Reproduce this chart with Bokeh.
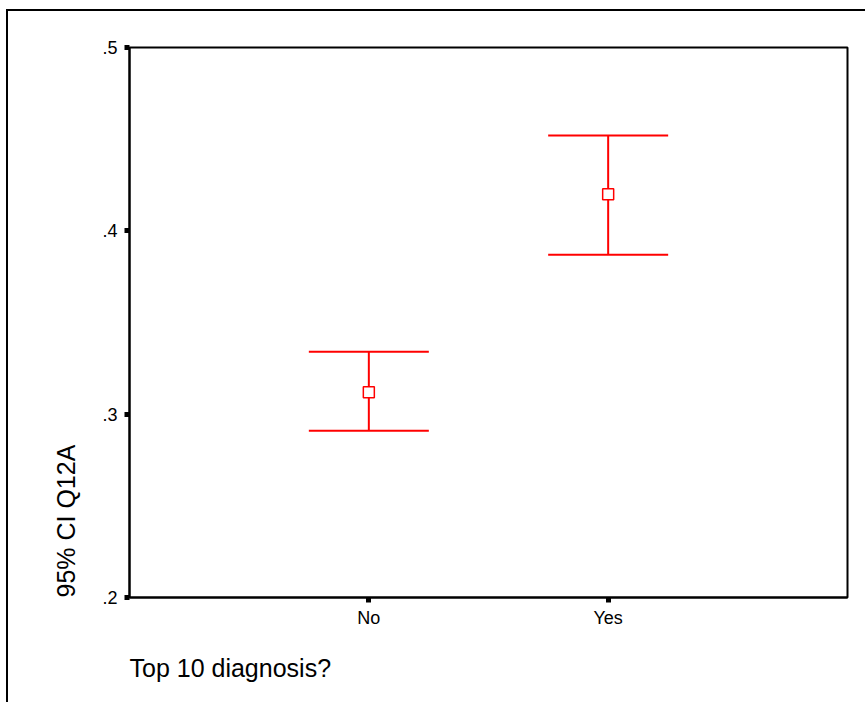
from bokeh.plotting import figure
from bokeh.models import (ColumnDataSource, Whisker, TeeHead, Range1d, FixedTicker,
                          CustomJSTickFormatter, Title)
from bokeh.embed import file_html
from bokeh.resources import INLINE

# ---- data ----
categories = ["No", "Yes"]
means = [0.312, 0.420]
lower = [0.291, 0.387]
upper = [0.334, 0.452]
y_ticks = [0.2, 0.3, 0.4, 0.5]
x_title = "Top 10 diagnosis?"
y_title = "95% CI Q12A"

xs = [i + 1 for i in range(len(categories))]
src = ColumnDataSource(dict(x=xs, mean=means, lower=lower, upper=upper))

FONT = "Liberation Sans"
RED = "#ff0000"

p = figure(width=859, height=693, output_backend="svg", toolbar_location=None,
           x_range=Range1d(0, len(categories) + 1), y_range=Range1d(y_ticks[0], y_ticks[-1]),
           min_border_left=121, min_border_right=20, min_border_top=36,
           min_border_bottom=107)
p.styles = {"margin-left": "6px", "margin-top": "9px",
            "border-left": "2px solid black", "border-top": "2px solid black"}

p.grid.visible = False
p.outline_line_color = "black"
p.outline_line_width = 2
p.outline_line_alpha = 1.0
p.background_fill_color = "white"
p.border_fill_color = "white"

w = Whisker(base="x", upper="upper", lower="lower", source=src,
            line_color=RED, line_width=2,
            upper_head=TeeHead(size=120, line_color=RED, line_width=2),
            lower_head=TeeHead(size=120, line_color=RED, line_width=2))
p.add_layout(w)
p.scatter("x", "mean", source=src, marker="square", size=11,
          fill_color="white", line_color=RED, line_width=1.5)

for ax in (p.xaxis[0], p.yaxis[0]):
    ax.axis_line_color = "black"
    ax.axis_line_width = 2
    ax.major_tick_line_color = "black"
    ax.major_tick_line_width = 5
    ax.major_tick_out = 5
    ax.major_tick_in = 0
    ax.minor_tick_line_color = None
    ax.major_label_text_font = FONT
    ax.major_label_text_font_size = "18px"
    ax.major_label_text_color = "black"

p.xaxis.ticker = FixedTicker(ticks=xs)
p.xaxis.major_label_overrides = {x: c for x, c in zip(xs, categories)}
p.xaxis.major_label_standoff = 5

p.yaxis.ticker = FixedTicker(ticks=y_ticks)
p.yaxis.formatter = CustomJSTickFormatter(code="return tick.toFixed(1).replace(/^0/, '');")
p.yaxis.major_label_standoff = 7

yt = Title(text=y_title, align="left", text_font=FONT, text_font_size="25px",
           text_font_style="normal", text_color="black", standoff=40)
p.add_layout(yt, "left")

xt = Title(text=x_title, align="left", vertical_align="bottom", text_font=FONT,
           text_font_size="25px", text_font_style="normal", text_color="black",
           standoff=42)
p.add_layout(xt, "below")

open("out.html", "w").write(file_html(p, INLINE))
